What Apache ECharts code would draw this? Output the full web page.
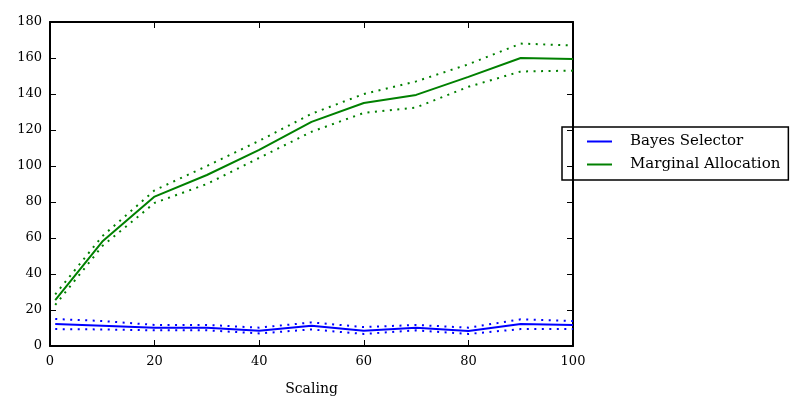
<!DOCTYPE html>
<html>
<head>
<meta charset="utf-8">
<script src="https://cdn.jsdelivr.net/npm/echarts@6/dist/echarts.min.js"></script>
<style>
  html, body { margin: 0; padding: 0; background: #fff; }
  #chart { width: 805px; height: 411px; }
</style>
</head>
<body>
<div id="chart"></div>
<script>
const scaling = [1, 10, 20, 30, 40, 50, 60, 70, 80, 90, 100];

const bayesMean = [12.2, 11.3, 10.2, 10.2, 8.5, 11.3, 8.5, 10.2, 8.3, 12.2, 11.7];
const bayesUpper = [15, 13.9, 11.7, 11.7, 10.2, 13.1, 10.5, 11.7, 10.2, 14.8, 13.9];
const bayesLower = [9.4, 9.2, 8.7, 8.7, 7.0, 9.2, 6.7, 8.7, 6.7, 9.4, 9.4];

const marginalMean = [25.5, 58, 83, 95, 109, 124.5, 135, 139.5, 149.5, 160, 159.5];
const marginalUpper = [28.7, 61, 86.5, 100, 114, 129, 140, 147, 156.5, 168, 167];
const marginalLower = [22.8, 55.5, 79.5, 90, 104.5, 119, 129.5, 132.5, 144, 152.5, 153];

const xTicks = [0, 20, 40, 60, 80, 100];
const yTicks = [0, 20, 40, 60, 80, 100, 120, 140, 160, 180];

const BLUE = '#0000ff';
const GREEN = '#008000';
const FONT = 'DejaVu Serif';

const pairs = ys => scaling.map((x, i) => [x, ys[i]]);

function lineSeries(name, ys, color, dotted) {
  return {
    name: name,
    type: 'line',
    data: pairs(ys),
    symbol: 'none',
    silent: true,
    lineStyle: dotted
      ? { color: color, width: 2, type: [2, 5.5], cap: 'butt' }
      : { color: color, width: 2 },
    itemStyle: { color: color },
    z: dotted ? 2 : 3
  };
}

// frame on all four sides, ticks pointing inwards (matplotlib style)
const axisCommon = {
  type: 'value',
  axisLine: { show: true, onZero: false, lineStyle: { color: '#000', width: 2 } },
  axisTick: { show: true, inside: true, length: 6, lineStyle: { color: '#000', width: 1 } },
  splitLine: { show: false }
};

const chart = echarts.init(document.getElementById('chart'));

chart.setOption({
  animation: false,
  backgroundColor: '#fff',
  textStyle: { fontFamily: FONT },
  grid: { left: 50, right: 232, top: 22, bottom: 65 },
  legend: {
    data: ['Bayes Selector', 'Marginal Allocation'],
    orient: 'vertical',
    left: 562,
    top: 127,
    padding: [7, 8, 8, 25],
    itemGap: 8,
    itemWidth: 25,
    itemHeight: 2,
    icon: 'rect',
    borderColor: '#000',
    borderWidth: 1.5,
    borderRadius: 0,
    selectedMode: false,
    textStyle: { fontFamily: FONT, fontSize: 15, color: '#000', padding: [0, 0, 0, 13] }
  },
  xAxis: [
    Object.assign({}, axisCommon, {
      min: 0, max: 100, interval: 20,
      position: 'bottom',
      name: 'Scaling',
      nameLocation: 'middle',
      nameGap: 36,
      nameTextStyle: { fontFamily: FONT, fontSize: 14, color: '#000' },
      axisLabel: {
        color: '#000', fontFamily: FONT, fontSize: 13, margin: 9,
        formatter: v => (xTicks.indexOf(v) >= 0 ? String(v) : '')
      }
    }),
    Object.assign({}, axisCommon, {
      min: 0, max: 100, interval: 20,
      position: 'top',
      axisLabel: { show: false }
    })
  ],
  yAxis: [
    Object.assign({}, axisCommon, {
      min: 0, max: 180, interval: 20,
      position: 'left',
      axisLabel: {
        color: '#000', fontFamily: FONT, fontSize: 13, margin: 8,
        formatter: v => (yTicks.indexOf(v) >= 0 ? String(v) : '')
      }
    }),
    Object.assign({}, axisCommon, {
      min: 0, max: 180, interval: 20,
      position: 'right',
      axisLabel: { show: false }
    })
  ],
  series: [
    lineSeries('Bayes Selector', bayesMean, BLUE, false),
    lineSeries('Bayes upper', bayesUpper, BLUE, true),
    lineSeries('Bayes lower', bayesLower, BLUE, true),
    lineSeries('Marginal Allocation', marginalMean, GREEN, false),
    lineSeries('Marginal upper', marginalUpper, GREEN, true),
    lineSeries('Marginal lower', marginalLower, GREEN, true)
  ]
});
</script>
</body>
</html>
